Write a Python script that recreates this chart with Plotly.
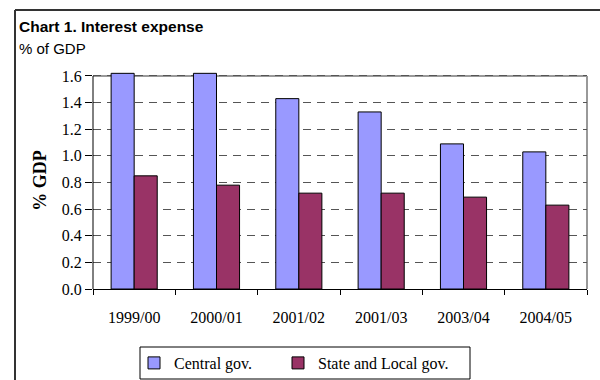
import plotly.graph_objects as go

categories = ["1999/00", "2000/01", "2001/02", "2001/03", "2003/04", "2004/05"]
central = [1.62, 1.62, 1.43, 1.33, 1.09, 1.03]
state_local = [0.85, 0.78, 0.72, 0.72, 0.69, 0.63]
y_ticks = [0.0, 0.2, 0.4, 0.6, 0.8, 1.0, 1.2, 1.4, 1.6]
y_top = 1.6
y_range_top = 1.63

W, H = 600, 380
L, R, B = 93, 13, 91
T = 72
pw, ph = W - L - R, H - T - B

def px(x):
    return (x - L) / pw

def py(y):
    return (H - B - y) / ph

fig = go.Figure()
fig.add_bar(x=categories, y=central, name="Central gov.", legend="legend",
            marker=dict(color="#9999FF", line=dict(color="black", width=1)))
fig.add_bar(x=categories, y=state_local, name="State and Local gov.", legend="legend2",
            marker=dict(color="#993366", line=dict(color="black", width=1)))

serif = "Liberation Serif, Times New Roman, serif"
sans = "Liberation Sans, Arial, sans-serif"

legend_common = dict(orientation="h", xanchor="left", yanchor="middle", borderwidth=0,
                     bgcolor="rgba(0,0,0,0)", font=dict(family=serif, size=16))

fig.update_layout(
    width=W, height=H,
    margin=dict(l=L, r=R, t=T, b=B, autoexpand=False),
    paper_bgcolor="white", plot_bgcolor="white",
    barmode="group", bargap=0.44, bargroupgap=0,
    font=dict(family=serif, color="black", size=16),
    showlegend=True,
    legend=dict(x=px(134), y=py(363), **legend_common),
    legend2=dict(x=px(278), y=py(363), **legend_common),
    xaxis=dict(type="category", showline=True, linecolor="black", linewidth=1,
               ticks="outside", ticklen=5, tickcolor="black", tickson="boundaries",
               showgrid=False, tickfont=dict(family=serif, size=16), automargin=False,
               ticklabelstandoff=14),
    yaxis=dict(range=[0, y_range_top], tickvals=y_ticks, tickformat=".1f", showline=False,
               ticks="outside", ticklen=7, tickcolor="black",
               showgrid=True, gridcolor="#555555", griddash="8px,6px", gridwidth=1,
               zeroline=False, tickfont=dict(family=serif, size=16), automargin=False,
               title=dict(text="<b>% GDP</b>", font=dict(family=serif, size=18), standoff=10)),
    shapes=[
        # plot-area border (top + right), gray
        dict(type="line", xref="paper", yref="y", x0=0, x1=1, y0=y_top, y1=y_top,
             line=dict(color="#999999", width=2), layer="between"),
        dict(type="line", xref="paper", yref="y", x0=1, x1=1, y0=0, y1=y_top,
             line=dict(color="#999999", width=2), layer="between"),
        # y axis line
        dict(type="line", xref="paper", yref="y", x0=0, x1=0, y0=0, y1=y_top,
             line=dict(color="black", width=1)),
        # outer chart frame
        dict(type="line", xref="paper", yref="paper", x0=px(15), x1=px(600), y0=py(10), y1=py(10),
             line=dict(color="#333333", width=2)),
        dict(type="line", xref="paper", yref="paper", x0=px(15), x1=px(15), y0=py(10), y1=py(382),
             line=dict(color="#333333", width=2)),
        # legend box
        dict(type="rect", xref="paper", yref="paper", x0=px(140), x1=px(470), y0=py(347), y1=py(379),
             line=dict(color="black", width=1), fillcolor="rgba(0,0,0,0)"),
    ],
    annotations=[
        dict(text="<b>Chart 1. Interest expense</b>", xref="paper", yref="paper",
             x=px(17), y=py(27), xanchor="left", yanchor="middle", showarrow=False,
             font=dict(family=sans, size=15.5, color="black")),
        dict(text="% of GDP", xref="paper", yref="paper",
             x=px(17), y=py(48), xanchor="left", yanchor="middle", showarrow=False,
             font=dict(family=sans, size=15, color="black")),
    ],
)

fig.write_html("out.html")
